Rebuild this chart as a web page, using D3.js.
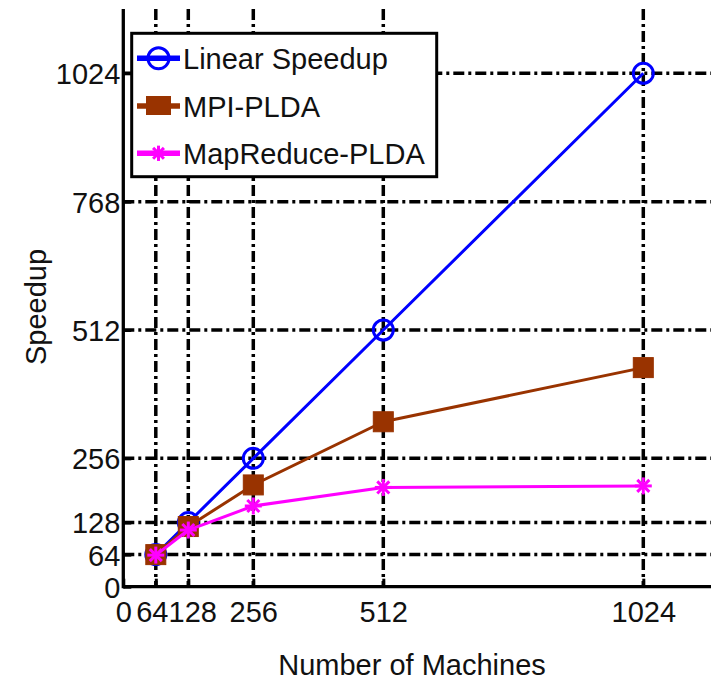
<!DOCTYPE html>
<html>
<head>
<meta charset="utf-8">
<script src="https://cdn.jsdelivr.net/npm/d3@7"></script>
<style>
html,body{margin:0;padding:0;background:#fff;}
svg{display:block;}
text{font-family:"Liberation Sans",Arial,sans-serif;fill:#111;}
</style>
</head>
<body>
<div id="chart"></div>
<script>
const machines = [64, 128, 256, 512, 1024];
const linearSpeedup = [64, 128, 256, 512, 1024];
const mpiPLDA = [64, 120, 203, 329, 437];
const mapReducePLDA = [63, 113, 161, 198, 201];
const xTicks = [0, 64, 128, 256, 512, 1024];
const yTicks = [0, 64, 128, 256, 512, 768, 1024];
const seriesNames = ["Linear Speedup", "MPI-PLDA", "MapReduce-PLDA"];
const seriesColors = ["#0000ff", "#993300", "#ff00ff"];
const xLabel = "Number of Machines";
const yLabel = "Speedup";

(function () {
const W = 711, H = 686;
const plotLeft = 123.3, plotBottom = 586.7, plotTop = 9;
const x = d3.scaleLinear().domain([0, 1200]).range([plotLeft, plotLeft + 1200 * (520 / 1024)]);
const y = d3.scaleLinear().domain([0, 1152]).range([plotBottom, plotBottom - 1152 * (513.4 / 1024)]);

const svg = d3.select("#chart").append("svg").attr("width", W).attr("height", H);

const gridDash = "11,4,3,4";
const grid = svg.append("g");
grid.selectAll("line.v").data(xTicks.filter(d => d > 0)).join("line")
  .attr("class", "v")
  .attr("x1", d => x(d)).attr("x2", d => x(d))
  .attr("y1", plotTop).attr("y2", plotBottom)
  .attr("stroke", "#000").attr("stroke-width", 3.5).attr("stroke-dasharray", gridDash);
grid.selectAll("line.h").data(yTicks.filter(d => d > 0)).join("line")
  .attr("class", "h")
  .attr("x1", plotLeft).attr("x2", W + 30)
  .attr("y1", d => y(d)).attr("y2", d => y(d))
  .attr("stroke", "#000").attr("stroke-width", 3.5).attr("stroke-dasharray", gridDash);

const xAxis = d3.axisBottom(x).tickValues(xTicks).tickSize(-8).tickPadding(0).tickFormat(d3.format("d"));
const yAxis = d3.axisLeft(y).tickValues(yTicks).tickSize(-8).tickPadding(0).tickFormat(d3.format("d"));

const gx = svg.append("g").attr("transform", `translate(0,${plotBottom})`).call(xAxis);
gx.select(".domain").remove();
gx.selectAll(".tick line").attr("stroke", "#000").attr("stroke-width", 3);
// the 64 and 128 labels sit very close together; nudge them apart a little
const nudge = {64: -4, 128: 4};
gx.selectAll(".tick text").attr("y", 35).attr("dy", 0).attr("font-size", 29)
  .attr("x", d => nudge[d] || 0)
  .style("font-family", '"Liberation Sans",Arial,sans-serif').attr("fill", "#111");

const gy = svg.append("g").attr("transform", `translate(${plotLeft},0)`).call(yAxis);
gy.select(".domain").remove();
gy.selectAll(".tick line").attr("stroke", "#000").attr("stroke-width", 3);
gy.selectAll(".tick text").attr("x", -3).attr("dy", "0.36em").attr("font-size", 29)
  .style("font-family", '"Liberation Sans",Arial,sans-serif').attr("fill", "#111");

svg.append("line").attr("x1", plotLeft).attr("x2", W + 10).attr("y1", plotBottom).attr("y2", plotBottom)
  .attr("stroke", "#000").attr("stroke-width", 3.3);
svg.append("line").attr("x1", plotLeft).attr("x2", plotLeft).attr("y1", plotTop).attr("y2", plotBottom + 1.5)
  .attr("stroke", "#000").attr("stroke-width", 3.3);

const allSeries = [linearSpeedup, mpiPLDA, mapReducePLDA];
const line = d3.line().x((d, i) => x(machines[i])).y(d => y(d));

function drawMarker(g, type, cx, cy, color, s) {
  if (type === 0) {
    g.append("circle").attr("cx", cx).attr("cy", cy).attr("r", 10 * s)
      .attr("fill", "none").attr("stroke", color).attr("stroke-width", 3);
  } else if (type === 1) {
    const w = 20 * s, h = 20 * s;
    g.append("rect").attr("x", cx - w / 2).attr("y", cy - h / 2).attr("width", w).attr("height", h)
      .attr("fill", color).attr("stroke", color).attr("stroke-width", 1);
  } else {
    const r = 8.5 * s;
    const a = r * 0.7071;
    const segs = [[-r, 0, r, 0], [0, -r, 0, r], [-a, -a, a, a], [-a, a, a, -a]];
    segs.forEach(p => g.append("line")
      .attr("x1", cx + p[0]).attr("y1", cy + p[1]).attr("x2", cx + p[2]).attr("y2", cy + p[3])
      .attr("stroke", color).attr("stroke-width", 3));
  }
}

allSeries.forEach((vals, si) => {
  const g = svg.append("g");
  g.append("path").datum(vals).attr("d", line)
    .attr("fill", "none").attr("stroke", seriesColors[si])
    .attr("stroke-width", 3).attr("stroke-linejoin", "round");
  vals.forEach((v, i) => drawMarker(g, si, x(machines[i]), y(v), seriesColors[si], 1));
});

const lg = svg.append("g");
lg.append("rect").attr("x", 131.7).attr("y", 33.3).attr("width", 305).attr("height", 143.4)
  .attr("fill", "#fff").attr("stroke", "#000").attr("stroke-width", 3);
const legY = [58.3, 106, 153.3];
seriesNames.forEach((name, i) => {
  lg.append("line").attr("x1", 137).attr("x2", 180).attr("y1", legY[i]).attr("y2", legY[i])
    .attr("stroke", seriesColors[i]).attr("stroke-width", 5.5);
  if (i === 1) {
    lg.append("rect").attr("x", 146).attr("y", legY[i] - 10).attr("width", 25).attr("height", 19)
      .attr("fill", seriesColors[i]);
  } else {
    drawMarker(lg, i, 158.5, legY[i], seriesColors[i], i === 0 ? 1.05 : 0.9);
  }
  lg.append("text").attr("x", 183).attr("y", legY[i] + 10.5).attr("font-size", 29).text(name);
});

svg.append("text").attr("x", 412).attr("y", 675).attr("text-anchor", "middle")
  .attr("font-size", 29).text(xLabel);
svg.append("text").attr("transform", "translate(46,307) rotate(-90)").attr("text-anchor", "middle")
  .attr("font-size", 29).text(yLabel);
})();
</script>
</body>
</html>
